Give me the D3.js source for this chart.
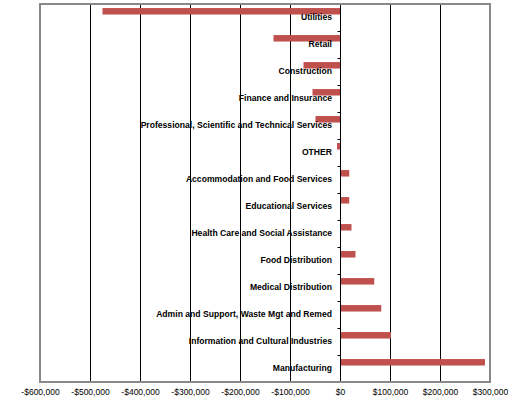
<!DOCTYPE html>
<html>
<head>
<meta charset="utf-8">
<script src="https://cdn.jsdelivr.net/npm/d3@7"></script>
<style>
  body { margin: 0; background: #fff; }
  text { font-family: "Liberation Sans", Arial, sans-serif; }
</style>
</head>
<body>
<svg id="chart" width="529" height="408"></svg>
<script>
// categories top to bottom
var categories = [
    "Utilities", "Retail", "Construction", "Finance and Insurance",
    "Professional, Scientific and Technical Services", "OTHER",
    "Accommodation and Food Services", "Educational Services",
    "Health Care and Social Assistance", "Food Distribution",
    "Medical Distribution", "Admin and Support, Waste Mgt and Remed",
    "Information and Cultural Industries", "Manufacturing"
];
var values = [
    -475000, -133000, -73000, -55000, -49000, -6000,
    18500, 18500, 23000, 31000, 68500, 82500, 102000, 290000
];
var tickValues = [-600000, -500000, -400000, -300000, -200000, -100000, 0, 100000, 200000, 300000];

var svg = d3.select("#chart");
var plot = { left: 40, right: 490, top: 4, bottom: 382 };

var x = d3.scaleLinear()
    .domain([-600000, 300000])
    .range([plot.left, plot.right]);

var y = d3.scaleBand()
    .domain(categories)
    .range([plot.top, plot.bottom])
    .padding(0);

var fmt = function (v) {
    var s = "$" + d3.format(",")(Math.abs(v));
    return v < 0 ? "-" + s : s;
};

// gridlines
svg.append("g")
    .selectAll("line")
    .data(tickValues.filter(function (v) { return v !== 0 && v > -600000 && v < 300000; }))
    .enter().append("line")
    .attr("x1", d => Math.round(x(d)) + 0.5)
    .attr("x2", d => Math.round(x(d)) + 0.5)
    .attr("y1", plot.top)
    .attr("y2", plot.bottom)
    .attr("stroke", "#000")
    .attr("stroke-width", 1);

// bars
var band = y.bandwidth();
svg.append("g")
    .selectAll("rect")
    .data(categories)
    .enter().append("rect")
    .attr("x", (d, i) => Math.min(x(0), x(values[i])))
    .attr("width", (d, i) => Math.abs(x(values[i]) - x(0)))
    .attr("y", d => y(d) + band * 0.15)
    .attr("height", band * 0.24)
    .attr("fill", "#C0504D");

// zero axis with ticks on band edges
var x0 = Math.round(x(0)) + 0.5;
svg.append("line")
    .attr("x1", x0).attr("x2", x0)
    .attr("y1", plot.top).attr("y2", plot.bottom)
    .attr("stroke", "#000");

svg.append("g")
    .selectAll("line")
    .data(categories.slice(1))
    .enter().append("line")
    .attr("x1", x0 - 3).attr("x2", x0)
    .attr("y1", d => Math.round(y(d)) + 0.5)
    .attr("y2", d => Math.round(y(d)) + 0.5)
    .attr("stroke", "#000");

// category labels
svg.append("g")
    .selectAll("text")
    .data(categories)
    .enter().append("text")
    .attr("x", x(0) - 8)
    .attr("y", d => y(d) + band / 2 + 2.5)
    .attr("text-anchor", "end")
    .attr("font-size", "8.6px")
    .attr("font-weight", "bold")
    .attr("fill", "#000")
    .text(d => d);

// plot border
svg.append("rect")
    .attr("x", plot.left)
    .attr("y", plot.top)
    .attr("width", plot.right - plot.left)
    .attr("height", plot.bottom - plot.top)
    .attr("fill", "none")
    .attr("stroke", "#888")
    .attr("stroke-width", 2);

// x axis labels
var xAxis = d3.axisBottom(x)
    .tickValues(tickValues)
    .tickFormat(fmt)
    .tickSize(0)
    .tickPadding(7);

var gx = svg.append("g")
    .attr("transform", "translate(0," + plot.bottom + ")")
    .call(xAxis);
gx.select(".domain").remove();
gx.selectAll("text")
    .attr("font-size", "8.5px")
    .attr("fill", "#000")
    .style("font-family", "'Liberation Sans', Arial, sans-serif");
</script>
</body>
</html>
